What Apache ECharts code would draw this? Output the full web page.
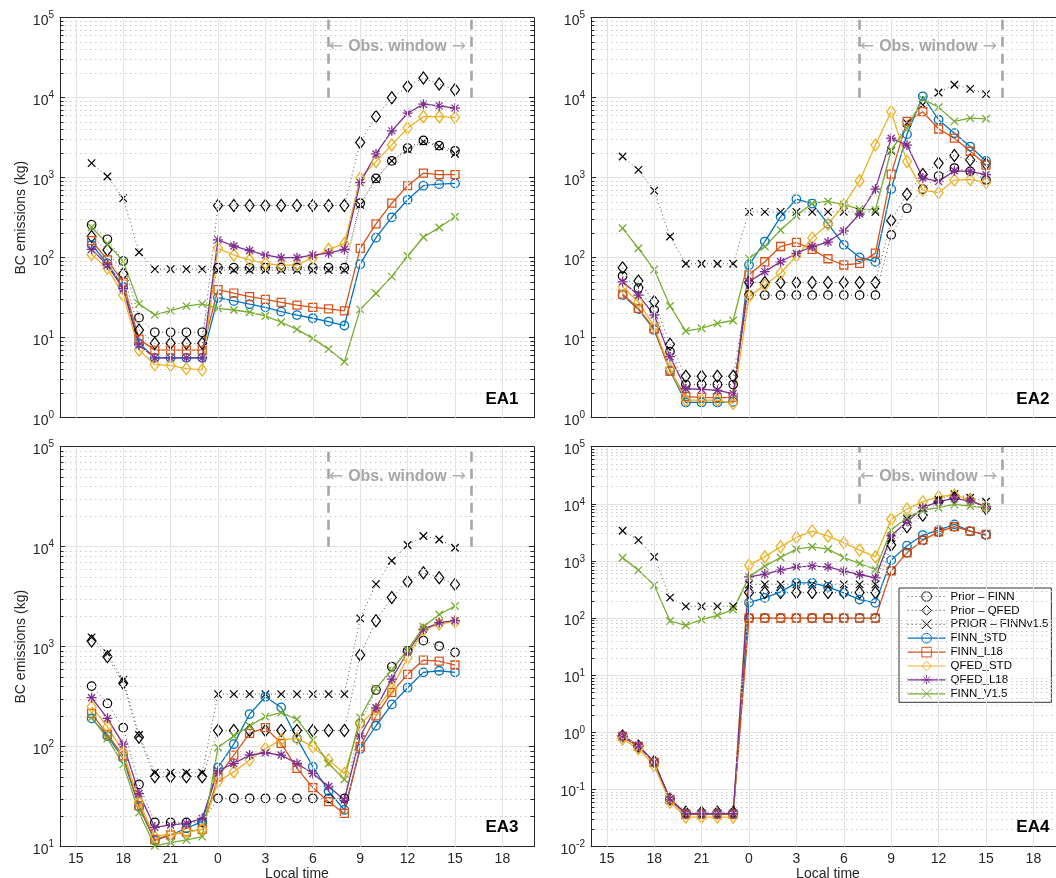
<!DOCTYPE html>
<html><head><meta charset="utf-8">
<script src="https://cdn.jsdelivr.net/npm/echarts@6/dist/echarts.min.js"></script>
<style>html,body{margin:0;padding:0;background:#fff}#c{width:1056px;height:878px}</style>
</head><body><div id="c"></div>
<script>
// ---------- axis scaffolding ----------
const hours = [16,17,18,19,20,21,22,23,24,25,26,27,28,29,30,31,32,33,34,35,36,37,38,39]; // 24 = 0 local next day
const xTicks = [15,18,21,24,27,30,33,36,39,42];
const xMin = 14, xMax = 44;
const seriesNames = ['Prior – FINN','Prior – QFED','PRIOR – FINNv1.5','FINN_STD','FINN_L18','QFED_STD','QFED_L18','FINN_V1.5'];
const seriesColors = ['#000000','#000000','#000000','#0072BD','#D95319','#EDB120','#7E2F8E','#77AC30'];
const panelLabels = ['EA1','EA2','EA3','EA4'];
const yMinExp = [0,0,1,-2];
const yMaxExp = [5,5,5,5];
const obsWindow = [31, 40];          // 7 h to 16 h local
const obsRange = [1e4, 1e5];
const obsLabelY = [4.3e4, 4.3e4, 5.0e4, 3.0e4];

// ---------- EA1 ----------
const ea1PriorFinn   = [258,170,91,17.8,11.7,11.7,11.7,11.7, 75,75,75,75,75,75,75,75,75, 480,980,1620,2350,2920,2520,2170];
const ea1PriorQfed   = [184,125,63,12.5,8.5,8.5,8.5,8.5, 449,449,449,449,449,449,449,449,449, 2760,5830,10000,13800,17600,14800,12600];
const ea1PriorFinn15 = [1520,1035,555,117,72,72,72,72, 70,70,70,70,70,70,70,70,70, 458,955,1620,2230,2830,2460,1990];
const ea1FinnStd     = [145,85,43,8.5,5.6,5.6,5.6,5.6, 31.6,28.8,26.2,24,21.2,19.2,17.5,15.9,14.2, 83,178,320,530,795,830,850];
const ea1FinnL18     = [163,94,49,9.6,7.0,7.0,7.0,7.0, 40,36,32.7,30.2,27.7,25.6,24,22.9,21.6, 131,265,480,795,1140,1090,1090];
const ea1QfedStd     = [110,74,34,7.0,4.6,4.5,4.1,3.95, 131,108,94,85,80,81,100,127,150, 990,1590,2570,4170,5800,5800,5650];
const ea1QfedL18     = [127,81,41,8.1,5.6,5.6,5.6,5.6, 167,140,123,108,100,100,108,114,127, 868,1980,3850,6400,8300,7900,7400];
const ea1FinnV15     = [240,150,90,26.5,19.3,21.8,24.8,26.5, 23.3,22.2,20.8,18.7,15.6,12.7,9.8,7.2,5.0, 22.6,36,58,105,180,238,325];

// ---------- EA2 ----------
const ea2PriorFinn   = [59,41.7,22.2,6.7,2.6,2.6,2.6,2.6, 34,34,34,34,34,34,34,34,34, 193,415,720,1050,1320,1200,940];
const ea2PriorQfed   = [75,51,28.3,8.3,3.3,3.3,3.3,3.3, 49,49,49,49,49,49,49,49,49, 292,622,1100,1520,1900,1670,1480];
const ea2PriorFinn15 = [1840,1250,690,184,84,84,84,84, 374,374,374,374,374,374,374,374,374, 2170,4800,8150,11600,14500,12900,11100];
const ea2FinnStd     = [34,22.7,12.5,3.9,1.55,1.55,1.55,1.58, 81,159,326,540,475,265,145,101,89, 720,3500,10400,5300,3600,2450,1620];
const ea2FinnL18     = [35,23.3,12.9,3.8,1.83,1.8,1.78,1.8, 61,89,138,155,127,97,81,85,114, 1110,5060,6680,4060,3120,2140,1440];
const ea2QfedStd     = [43,28,13.8,4.1,1.66,1.66,1.66,1.51, 32.6,45.6,64,105,176,262,458,912,2560, 6680,1590,700,650,935,950,870];
const ea2QfedL18     = [50,34,19.2,5.8,2.3,2.26,2.2,2.0, 50,67,89,113,138,157,216,352,720, 3120,2560,990,900,1220,1200,1090];
const ea2FinnV15     = [233,131,71,24.9,12.1,13.1,15.1,16.4, 98,138,222,334,480,505,460,405,396, 2220,4170,9600,7600,5060,5550,5450];

// ---------- EA3 ----------
const ea3PriorFinn   = [404,271,155,42,17.5,17.5,17.5,17.5, 30.4,30.4,30.4,30.4,30.4,30.4,30.4,30.4,30.4, 171,369,631,910,1150,1015,878];
const ea3PriorQfed   = [1140,795,430,124,50,50,50,50, 145,145,145,145,145,145,145,145,145, 826,1820,3100,4470,5500,4890,4200];
const ea3PriorFinn15 = [1240,858,464,131,55,55,55,55, 336,336,336,336,336,336,336,336,336, 1920,4230,7240,10400,12800,11800,9770];
const ea3FinnStd     = [192,128,76,25,11.5,13.1,15.3,17.8, 62,106,212,316,247,121,63,36,23.3, 95,162,265,389,554,575,554];
const ea3FinnL18     = [215,133,81,25.7,11.8,13.1,14.1,14.9, 50,82.5,136,155,108,60.7,39,28.2,21.5, 100,203,349,529,735,719,656];
const ea3QfedStd     = [251,158,89,28,12.6,13.4,14.1,14.9, 44.7,56,73.6,96,117,121,100,73.6,54, 171,233,383,776,1470,1690,1780];
const ea3QfedL18     = [309,192,106,34,15.6,16.5,17.1,19.2, 57.5,68,82.5,87,82.5,68,54,40,29.3, 128,245,475,890,1490,1740,1820];
const ea3FinnV15     = [196,121,66.6,21.9,10.2,11,11.7,12.6, 98,128,161,200,219,188,117,68,47, 196,383,585,926,1585,2100,2550];

// ---------- EA4 ----------
const ea4PriorFinn   = [0.85,0.57,0.3,0.067,0.038,0.038,0.038,0.038, 100,100,100,100,100,100,100,100,100, 680,1400,2300,3200,4000,3300,2900];
const ea4PriorQfed   = [0.87,0.58,0.31,0.068,0.04,0.04,0.04,0.04, 280,280,280,280,280,280,280,280,280, 1900,3970,6300,10900,12800,11700,8300];
const ea4PriorFinn15 = [3380,2320,1180,229,161,161,161,161, 390,390,390,390,390,390,390,390,390, 2500,5400,8300,11700,14800,12800,10900];
const ea4FinnStd     = [0.85,0.57,0.3,0.067,0.037,0.037,0.037,0.037, 187,226,288,414,414,352,277,211,185, 1035,1850,2840,3470,4370,3340,2840];
const ea4FinnL18     = [0.85,0.57,0.3,0.067,0.037,0.037,0.037,0.037, 100,100,100,100,100,100,100,100,100, 673,1390,2320,3240,3980,3340,2920];
const ea4QfedStd     = [0.77,0.52,0.26,0.06,0.033,0.033,0.033,0.033, 845,1180,1770,2580,3340,2720,2080,1550,1180, 5350,8100,10900,13300,14300,11700,8900];
const ea4QfedL18     = [0.88,0.59,0.30,0.069,0.038,0.038,0.038,0.038, 527,589,692,791,812,791,664,580,507, 2760,4860,8550,10900,12500,11200,8900];
const ea4FinnV15     = [1140,692,377,89,75,94,112,141, 527,812,1150,1610,1770,1610,1150,904,710, 3470,5790,7780,8550,9770,9140,8550];

const panelData = [
  [ea1PriorFinn, ea1PriorQfed, ea1PriorFinn15, ea1FinnStd, ea1FinnL18, ea1QfedStd, ea1QfedL18, ea1FinnV15],
  [ea2PriorFinn, ea2PriorQfed, ea2PriorFinn15, ea2FinnStd, ea2FinnL18, ea2QfedStd, ea2QfedL18, ea2FinnV15],
  [ea3PriorFinn, ea3PriorQfed, ea3PriorFinn15, ea3FinnStd, ea3FinnL18, ea3QfedStd, ea3QfedL18, ea3FinnV15],
  [ea4PriorFinn, ea4PriorQfed, ea4PriorFinn15, ea4FinnStd, ea4FinnL18, ea4QfedStd, ea4QfedL18, ea4FinnV15]
];

// ---------- styles ----------
const FONT = '"Liberation Sans", Arial, Helvetica, sans-serif';
const AX = '#262626';
const STAR = 'path://M0,-10L0,10M-10,0L10,0M-7,-7L7,7M-7,7L7,-7';
const CROSS = 'path://M-10,-10L10,10M-10,10L10,-10';
const markerSym  = ['circle','diamond',CROSS,'circle','rect','diamond',STAR,CROSS];
const markerSize = [8.5,[9,12],7.5,8.5,8,[9,12],10,7.5];
const gridRects = [
  {left:60,  top:17.7,  width:474, height:400},
  {left:591, top:17.7,  width:474, height:400},
  {left:60,  top:446.7, width:474, height:400},
  {left:591, top:446.7, width:474, height:400}
];
const tickPx = 3.5 / 15.8; // minor tick length in hours

const grids = [], xAxes = [], yAxes = [], series = [], titles = [];

gridRects.forEach((g, p) => {
  grids.push(Object.assign({show:false, containLabel:false, outerBoundsMode:'none'}, g));
  const bottomRow = p >= 2, leftCol = p % 2 === 0;
  const yMin = Math.pow(10, yMinExp[p]), yMax = Math.pow(10, yMaxExp[p]);

  xAxes.push({
    type:'value', gridIndex:p, min:xMin, max:xMax, position:'bottom',
    axisLine:{show:true, onZero:false, lineStyle:{color:AX, width:1}},
    axisTick:{show:true, inside:true, length:5, customValues:xTicks, lineStyle:{color:AX}},
    axisLabel:{show:bottomRow, customValues:xTicks, formatter:v => String(v % 24), fontSize:14, color:AX, fontFamily:FONT, margin:5},
    splitLine:{show:false},
    name: bottomRow ? 'Local time' : '', nameLocation:'middle', nameGap:20,
    nameTextStyle:{fontSize:14, color:AX, fontFamily:FONT}
  });
  xAxes.push({
    type:'value', gridIndex:p, min:xMin, max:xMax, position:'top',
    axisLine:{show:true, onZero:false, lineStyle:{color:AX, width:1}},
    axisTick:{show:true, inside:true, length:5, customValues:xTicks, lineStyle:{color:AX}},
    axisLabel:{show:false}, splitLine:{show:false}
  });
  yAxes.push({
    type:'log', logBase:10, gridIndex:p, min:yMin, max:yMax, interval:1, position:'left',
    axisLine:{show:true, onZero:false, lineStyle:{color:AX, width:1}},
    axisTick:{show:true, inside:true, length:5, lineStyle:{color:AX}},
    axisLabel:{show:true, margin:6, hideOverlap:false,
      formatter:v => '{b|10}{s|' + Math.round(Math.log10(v)) + '}',
      rich:{b:{fontSize:14, color:AX, fontFamily:FONT, padding:[6,0,0,0]},
            s:{fontSize:10, color:AX, fontFamily:FONT, padding:[0,0,4,0]}}},
    splitLine:{show:true, showMinLine:false, showMaxLine:false, lineStyle:{color:'#e3e3e3', width:1}},
    minorTick:{show:false}, minorSplitLine:{show:false},
    name: leftCol ? 'BC emissions (kg)' : '', nameLocation:'middle', nameGap:32,
    nameTextStyle:{fontSize:14, color:AX, fontFamily:FONT}
  });
  yAxes.push({
    type:'log', logBase:10, gridIndex:p, min:yMin, max:yMax, interval:1, position:'right',
    axisLine:{show:true, onZero:false, lineStyle:{color:AX, width:1}},
    axisTick:{show:true, inside:true, length:5, lineStyle:{color:AX}},
    axisLabel:{show:false}, splitLine:{show:false}
  });

  const xi = 2 * p, yi = 2 * p;
  const minors = [];
  for (let e = yMinExp[p]; e < yMaxExp[p]; e++) for (let m = 2; m <= 9; m++) minors.push(m * Math.pow(10, e));

  const base = {type:'line', xAxisIndex:xi, yAxisIndex:yi, data:[], silent:true, symbol:'none'};
  series.push(Object.assign({}, base, {name:'_minor' + p,
    markLine:{silent:true, symbol:['none','none'], animation:false, label:{show:false}, emphasis:{disabled:true},
      lineStyle:{color:'#c8c8c8', width:1, type:[1.5,3.5]},
      data: minors.map(v => ({yAxis:v}))}}));
  series.push(Object.assign({}, base, {name:'_vgrid' + p,
    markLine:{silent:true, symbol:['none','none'], animation:false, label:{show:false}, emphasis:{disabled:true},
      lineStyle:{color:'#e3e3e3', width:1, type:'solid'},
      data: xTicks.map(v => ({xAxis:v}))}}));
  const mt = [];
  minors.forEach(v => {
    mt.push([{coord:[xMin, v]}, {coord:[xMin + tickPx, v]}]);
    mt.push([{coord:[xMax - tickPx, v]}, {coord:[xMax, v]}]);
  });
  series.push(Object.assign({}, base, {name:'_mtick' + p,
    markLine:{silent:true, symbol:['none','none'], animation:false, label:{show:false}, emphasis:{disabled:true},
      lineStyle:{color:AX, width:1, type:'solid'}, data: mt}}));
  series.push(Object.assign({}, base, {name:'_obs' + p,
    markLine:{silent:true, symbol:['none','none'], animation:false, label:{show:false}, emphasis:{disabled:true},
      lineStyle:{color:'#a6a6a6', width:2.6, type:[10,7]},
      data: obsWindow.map(x => [{coord:[x, obsRange[0]]}, {coord:[x, obsRange[1]]}])},
    markPoint:{silent:true, animation:false, symbol:'circle', symbolSize:1, itemStyle:{color:'rgba(0,0,0,0)'},
      label:{show:true, position:'inside', formatter:'{a|←}{g| }{b|Obs. window}{g| }{a|→}',
        rich:{a:{fontSize:17, color:'#b0b0b0', fontFamily:'"DejaVu Sans", sans-serif'},
              g:{fontSize:14, width:5},
              b:{fontSize:16, fontWeight:'bold', color:'#a6a6a6', fontFamily:FONT}}},
      data:[{coord:[(obsWindow[0] + obsWindow[1]) / 2 - 0.14, obsLabelY[p]]}]}}));

  panelData[p].forEach((vals, s) => {
    const prior = s < 3;
    const c = seriesColors[s];
    series.push({
      type:'line', name:seriesNames[s], xAxisIndex:xi, yAxisIndex:yi,
      data: hours.map((h, k) => [h, vals[k]]),
      symbol: markerSym[s], symbolSize: markerSize[s], showAllSymbol:true,
      itemStyle:{color:'rgba(0,0,0,0)', borderColor:c, borderWidth: prior ? 1.2 : 1.3},
      lineStyle: prior ? {color:'#555', width:1, type:[1,3]} : {color:c, width:1.3},
      emphasis:{disabled:true}, animation:false, z: 3
    });
  });

  titles.push({
    text: panelLabels[p], padding:0,
    left: leftCol ? 485.5 : 1016.3,
    top: bottomRow ? 819.3 : 391.2,
    textStyle:{fontSize:17, fontWeight:'bold', color:'#000', fontFamily:FONT}
  });
});

const chart = echarts.init(document.getElementById('c'), null, {renderer:'canvas', width:1056, height:878});
chart.setOption({
  animation:false,
  backgroundColor:'#ffffff',
  textStyle:{fontFamily:FONT},
  title: titles,
  grid: grids,
  xAxis: xAxes,
  yAxis: yAxes,
  legend:{
    data: seriesNames, orient:'vertical', left:899, top:588,
    padding:[2.5,3,2.5,8], itemWidth:38, itemHeight:12, itemGap:1.9,
    borderColor:'#333', borderWidth:1, backgroundColor:'#ffffff', selectedMode:false,
    itemStyle:{borderWidth:1},
    lineStyle:{width:1.2},
    textStyle:{fontSize:11.5, color:'#000', fontFamily:FONT, lineHeight:12}
  },
  series: series
});
</script>
</body></html>
